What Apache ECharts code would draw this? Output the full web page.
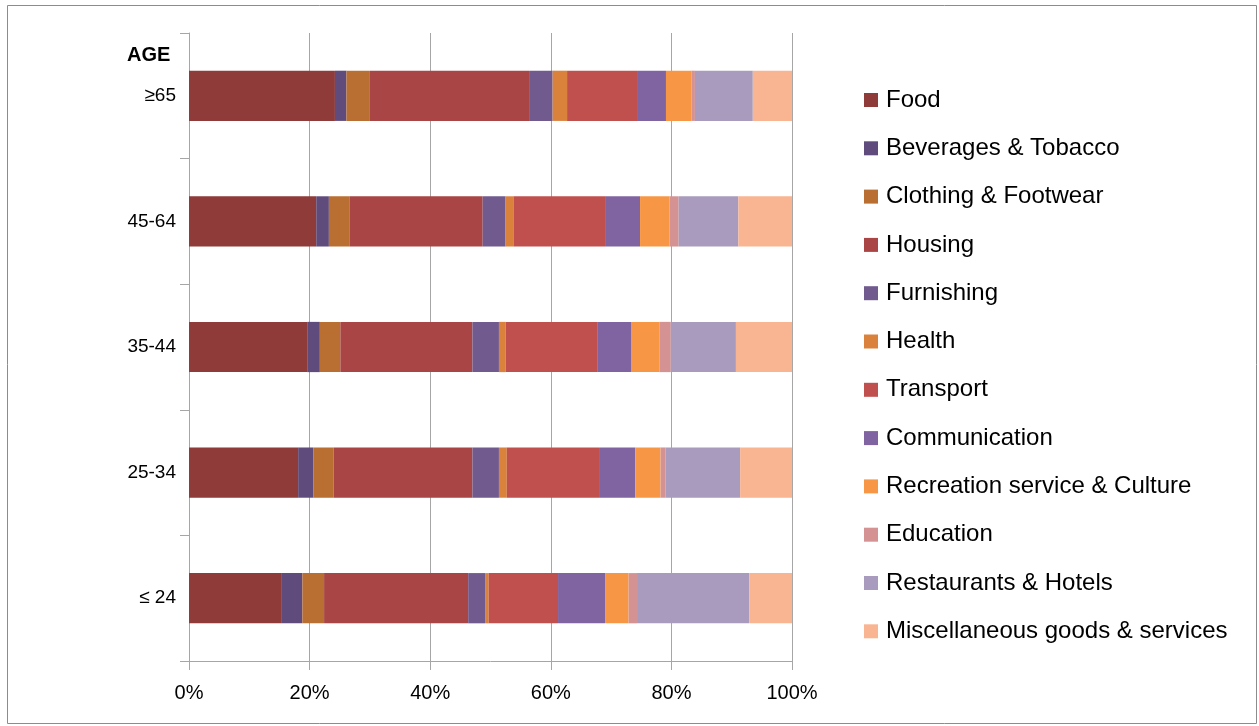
<!DOCTYPE html>
<html>
<head>
<meta charset="utf-8">
<script src="https://cdn.jsdelivr.net/npm/echarts@6/dist/echarts.min.js"></script>
<style>html,body{margin:0;padding:0;background:#fff}#c{width:1259px;height:726px}</style>
</head>
<body>
<div id="c"></div>
<script>
const ageGroups = ['≤ 24', '25-34', '35-44', '45-64', '≥65'];
const categoryNames = ['Food','Beverages & Tobacco','Clothing & Footwear','Housing','Furnishing','Health','Transport','Communication','Recreation service & Culture','Education','Restaurants & Hotels','Miscellaneous goods & services'];
// values per category, in ageGroups order (≤24, 25-34, 35-44, 45-64, ≥65), percent of spending
const food = [15.4, 18.1, 19.6, 21.1, 24.2];
const beverages = [3.4, 2.5, 2.1, 2.1, 1.9];
const clothing = [3.6, 3.4, 3.4, 3.4, 3.9];
const housing = [23.9, 23.0, 21.9, 22.1, 26.4];
const furnishing = [2.8, 4.4, 4.4, 3.8, 3.9];
const health = [0.6, 1.3, 1.1, 1.3, 2.4];
const transport = [11.5, 15.3, 15.3, 15.2, 11.6];
const communication = [7.8, 6.0, 5.5, 5.8, 4.8];
const recreation = [3.9, 4.2, 4.7, 4.9, 4.2];
const education = [1.4, 0.8, 1.9, 1.5, 0.6];
const restaurants = [18.6, 12.4, 10.8, 9.9, 9.6];
const misc = [7.1, 8.6, 9.3, 8.9, 6.5];
const xTicks = [0, 20, 40, 60, 80, 100];

const seriesValues = [food, beverages, clothing, housing, furnishing, health, transport, communication, recreation, education, restaurants, misc];
const colors = ['#8E3B39','#604C7C','#BA6F32','#A94645','#705A8E','#DA813C','#BF504E','#8064A2','#F79746','#D49292','#A99BBD','#F9B592'];

const chart = echarts.init(document.getElementById('c'), null, {renderer: 'canvas'});
const FONT = 'Liberation Sans';
chart.setOption({
  animation: false,
  backgroundColor: '#fff',
  color: colors,
  grid: {left: 189, right: 467, top: 33, bottom: 65, containLabel: false},
  legend: {
    orient: 'vertical',
    left: 864,
    top: 88,
    padding: 0,
    itemWidth: 14,
    itemHeight: 14,
    itemGap: 24.3,
    icon: 'rect',
    textStyle: {fontFamily: FONT, fontSize: 24, color: '#000', padding: [0, 0, 0, 3]},
    data: categoryNames
  },
  xAxis: {
    type: 'value',
    min: xTicks[0],
    max: xTicks[xTicks.length - 1],
    interval: 20,
    axisLine: {show: true, lineStyle: {color: '#a6a6a6'}},
    axisTick: {show: true, length: 9, lineStyle: {color: '#a6a6a6'}},
    axisLabel: {formatter: '{value}%', fontFamily: FONT, fontSize: 20, color: '#000', margin: 22},
    splitLine: {show: true, lineStyle: {color: '#a6a6a6', width: 1}}
  },
  yAxis: {
    type: 'category',
    data: ageGroups,
    axisLine: {show: true, lineStyle: {color: '#a6a6a6'}},
    axisTick: {show: true, length: 9, lineStyle: {color: '#a6a6a6'}},
    axisLabel: {fontFamily: FONT, fontSize: 19, color: '#000', margin: 13},
    splitLine: {show: false}
  },
  graphic: [
    {type: 'rect', left: 5, top: 3, shape: {width: 1249, height: 718}, style: {fill: 'none', stroke: '#8c8c8c', lineWidth: 1}, silent: true},
    {type: 'text', left: 127, top: 45, style: {text: 'AGE', font: 'bold 20px ' + FONT, fill: '#000'}}
  ],
  series: seriesValues.map((vals, i) => ({
    name: categoryNames[i],
    type: 'bar',
    stack: 'total',
    barCategoryGap: '60%',
    data: vals
  }))
});
</script>
</body>
</html>
